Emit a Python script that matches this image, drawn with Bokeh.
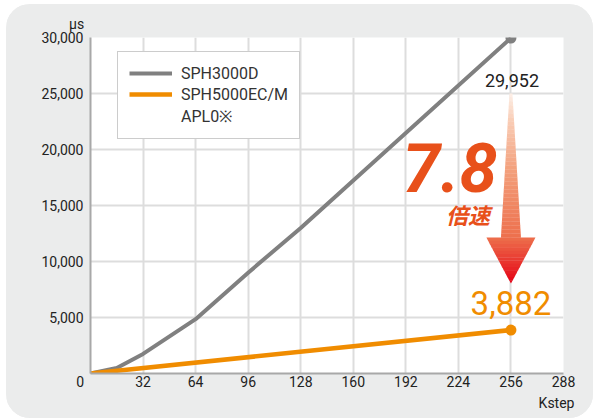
from bokeh.plotting import figure
from bokeh.models import (FixedTicker, Label, Legend, LegendItem, Range1d,
                          NumeralTickFormatter, LinearAxis)
from bokeh.embed import file_html
from bokeh.resources import INLINE

# ---- data ----
kstep_3000 = [0, 16, 32, 64, 96, 128, 256]
us_3000 = [0, 500, 1750, 4850, 9000, 13000, 29952]
kstep_5000 = [0, 256]
us_5000 = [0, 3882]
x_ticks = [0, 32, 64, 96, 128, 160, 192, 224, 256, 288]
y_ticks = [5000, 10000, 15000, 20000, 25000, 30000]
series_names = ["SPH3000D", "SPH5000EC/M", "APL0\u203b"]
speedup = "7.8"
speedup_word = "倍速"
x_unit = "Kstep"
y_unit = "μs"

GRAY = "#808080"
ORANGE = "#f08c00"
RED = "#e8501a"
NB = "\u00a0"

W, H = 587, 414
ML, MR, MT, MB = 84, 30, 33, 45
FW, FH = W - ML - MR, H - MT - MB
XMAX, YMAX = 288, 30000
pxx = FW / XMAX
pxy = FH / YMAX

p = figure(width=W, height=H, output_backend="svg", toolbar_location=None,
           x_range=Range1d(0, XMAX), y_range=Range1d(0, YMAX),
           min_border_left=ML, min_border_right=MR, min_border_top=MT,
           min_border_bottom=MB)
p.styles = {"margin": "4px 0 0 6px",
            "border-radius": "24px", "overflow": "hidden",
            "background-color": "#ebecec"}
p.border_fill_color = "#ebecec"
p.background_fill_color = "white"
p.outline_line_color = None

for ax, ticks in ((p.xaxis[0], x_ticks), (p.yaxis[0], y_ticks)):
    ax.ticker = FixedTicker(ticks=ticks)
    ax.axis_line_color = "#a8a8a8"
    ax.axis_line_width = 2
    ax.major_tick_line_color = None
    ax.minor_tick_line_color = None
    ax.major_tick_out = 0
    ax.major_tick_in = 0
    ax.major_label_text_font = "Roboto"
    ax.major_label_text_font_size = "14px"
    ax.major_label_text_color = "#222222"
p.yaxis[0].formatter = NumeralTickFormatter(format="0,0")
p.yaxis[0].major_label_standoff = 7
p.xaxis[0].major_label_standoff = 0
p.xaxis[0].major_label_overrides = {0: "0" + NB * 6}

xa = p.xaxis[0]
xa.axis_label = x_unit + NB * 4
xa.axis_label_align = "end"
xa.axis_label_standoff = 2
xa.axis_label_text_font = "Roboto"
xa.axis_label_text_font_size = "14px"
xa.axis_label_text_font_style = "normal"
xa.axis_label_text_color = "#222222"

# unit of the y axis, drawn by an axis above the frame
unit_axis = LinearAxis(ticker=FixedTicker(ticks=[0]),
                       major_label_overrides={0: y_unit + NB * 8},
                       axis_line_color=None, major_tick_line_color=None,
                       minor_tick_line_color=None, major_tick_out=0, major_tick_in=0,
                       major_label_standoff=6, major_label_text_font="Roboto",
                       major_label_text_font_size="14px",
                       major_label_text_color="#222222")
p.add_layout(unit_axis, "above")

p.grid.grid_line_color = "#dddddd"
p.grid.grid_line_width = 2

# ---- arrow (gradient built from slices) ----
def lerp_color(stops, t):
    for (t0, c0), (t1, c1) in zip(stops, stops[1:]):
        if t0 <= t <= t1:
            f = (t - t0) / (t1 - t0) if t1 > t0 else 0
            a = [int(c0[i:i + 2], 16) for i in (1, 3, 5)]
            b = [int(c1[i:i + 2], 16) for i in (1, 3, 5)]
            return "#%02x%02x%02x" % tuple(round(a[k] + (b[k] - a[k]) * f) for k in range(3))
    return stops[-1][1]

ax_c = kstep_3000[-1]
top_px = 56
y_top = YMAX - top_px / pxy
y_base = y_top - 144 / pxy
y_tip = y_base - 46 / pxy
stops = [(0.0, "#fdf0e8"), (0.14, "#f9cdb6"), (0.40, "#f3a07c"),
         (0.76, "#ed6f4c"), (1.0, "#e50014")]
xs, ys, cols = [], [], []
N1, N2 = 36, 14
def hw_shaft(y):
    f = (y_top - y) / (y_top - y_base)
    return (1.5 + f * 8.5) / pxx
def hw_head(y):
    f = (y_base - y) / (y_base - y_tip)
    return (24.5 * (1 - f)) / pxx
tot = y_top - y_tip
for i in range(N1):
    a = y_top - (y_top - y_base) * i / N1
    b = y_top - (y_top - y_base) * (i + 1) / N1
    wa, wb = hw_shaft(a), hw_shaft(b)
    xs.append([ax_c - wa, ax_c + wa, ax_c + wb, ax_c - wb])
    ys.append([a, a, b - 30, b - 30])
    cols.append(lerp_color(stops, ((y_top - (a + b) / 2) / tot)))
for i in range(N2):
    a = y_base - (y_base - y_tip) * i / N2
    b = y_base - (y_base - y_tip) * (i + 1) / N2
    wa, wb = hw_head(a), hw_head(b)
    bb = b - 30 if i < N2 - 1 else b
    xs.append([ax_c - wa, ax_c + wa, ax_c + wb, ax_c - wb])
    ys.append([a, a, bb, bb])
    cols.append(lerp_color(stops, ((y_top - (a + b) / 2) / tot)))
p.patches(xs, ys, fill_color=cols, line_color=None)

# ---- series ----
r1 = p.line(kstep_3000, us_3000, line_color=GRAY, line_width=4)
r2 = p.line(kstep_5000, us_5000, line_color=ORANGE, line_width=4.5)
p.scatter([kstep_3000[-1]], [us_3000[-1]], size=11, fill_color=GRAY, line_color=None)
p.scatter([kstep_5000[-1]], [us_5000[-1]], size=11, fill_color=ORANGE, line_color=None)
r3 = p.line([0, 0], [0, 0], line_alpha=0)

legend = Legend(items=[LegendItem(label=series_names[0], renderers=[r1]),
                       LegendItem(label=series_names[1], renderers=[r2]),
                       LegendItem(label=series_names[2], renderers=[r3])],
                location=(27, 234))
legend.label_text_font = "Roboto"
legend.label_text_font_size = "16px"
legend.label_text_color = "#333333"
legend.border_line_color = "#9a9a9a"
legend.border_line_width = 1.5
legend.background_fill_color = "white"
legend.background_fill_alpha = 1
legend.glyph_width = 43
legend.glyph_height = 20
legend.label_height = 20
legend.label_standoff = 9
legend.padding = 11
legend.spacing = 1
legend.margin = 0
p.add_layout(legend, "center")

# ---- texts ----
p.add_layout(Label(x=kstep_3000[-1], y=us_3000[-1], text="{:,}".format(us_3000[-1]),
                   x_offset=1, y_offset=-42, text_align="center", text_baseline="middle",
                   text_font="Roboto", text_font_size="18px", text_color="#222222"))
p.add_layout(Label(x=kstep_5000[-1], y=us_5000[-1], text="{:,}".format(us_5000[-1]),
                   x_offset=0, y_offset=27, text_align="center", text_baseline="middle",
                   text_font="Roboto", text_font_size="33px", text_color=ORANGE))
p.add_layout(Label(x=kstep_3000[-1], y=us_3000[-1], text=speedup,
                   x_offset=-61, y_offset=-129, text_align="center", text_baseline="middle",
                   text_font="Roboto", text_font_size="68px",
                   text_font_style="bold italic", text_color=RED))
p.add_layout(Label(x=kstep_3000[-1], y=us_3000[-1], text=speedup_word,
                   x_offset=-43, y_offset=-176, text_align="center", text_baseline="middle",
                   text_font="Noto Sans CJK JP", text_font_size="22px",
                   text_font_style="bold italic", text_color=RED))

open("out.html", "w").write(file_html(p, INLINE))
